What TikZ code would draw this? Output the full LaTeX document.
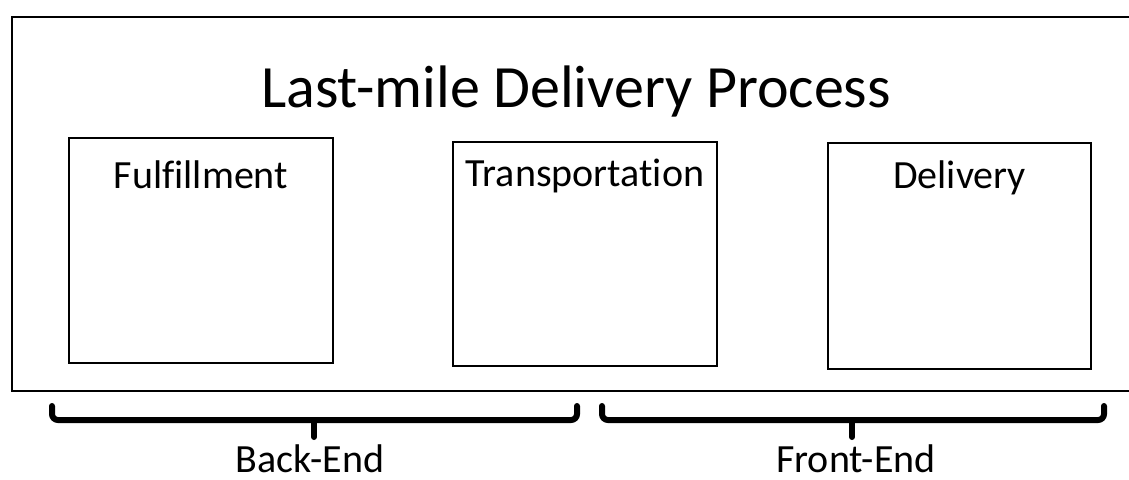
\documentclass[tikz,border=0pt]{standalone}
\usepackage{fontspec}
\setmainfont{Carlito}[Ligatures=NoCommon]
\usetikzlibrary{positioning}

\tikzset{
  frame/.style={draw, line width=1.2pt},
  stagebox/.style={draw, line width=1.2pt, fill=white, minimum width=132pt, minimum height=112.5pt},
  stagename/.style={anchor=base, font=\fontsize{20}{24}\selectfont},
  brace/.style={line width=3pt, rounded corners=3pt, line cap=round}
}

\begin{document}
\begin{tikzpicture}[x=0.5pt, y=-0.5pt]
      \useasboundingbox (0,0) rectangle (1129,479);
      % outer frame, cut off on the right
      \draw[frame] (1140,17) -- (12,17) -- (12,391) -- (1140,391);
      \node[anchor=base, font=\fontsize{30}{36}\selectfont] (title) at (576,107) {Last-mile Delivery Process};

      \node[stagebox] (ful) at (201,250.5) {};
      \node[stagebox, minimum height=112pt] (trans) at (585,254) {};
      \node[stagebox, minimum width=131.5pt, minimum height=113pt] (deliv) at (959.5,256) {};
      \node[stagename] (fultxt) at ([yshift=-26pt]ful.north) {Fulfillment};
      \node[stagename] (transtxt) at ([yshift=-23pt]trans.north) {Transportation};
      \node[stagename] (delivtxt) at ([yshift=-23.5pt]deliv.north) {Delivery};

      % brackets
      \coordinate (bl) at (52,406);
      \coordinate (br) at (577,406);
      \coordinate (bm) at (314,420);
      \coordinate (fl) at (602,406);
      \coordinate (fr) at (1104,406);
      \coordinate (fm) at (852,420);
      \draw[brace] (bl) |- (bm) -| (br);
      \draw[brace] (bm) -- ++(0,17);
      \draw[brace] (fl) |- (fm) -| (fr);
      \draw[brace] (fm) -- ++(0,17);
      \node[stagename, inner sep=1pt] (back) at (310,472) {Back-End};
      \node[stagename, inner sep=1pt] (front) at (856,472) {Front-End};
\end{tikzpicture}
\end{document}
